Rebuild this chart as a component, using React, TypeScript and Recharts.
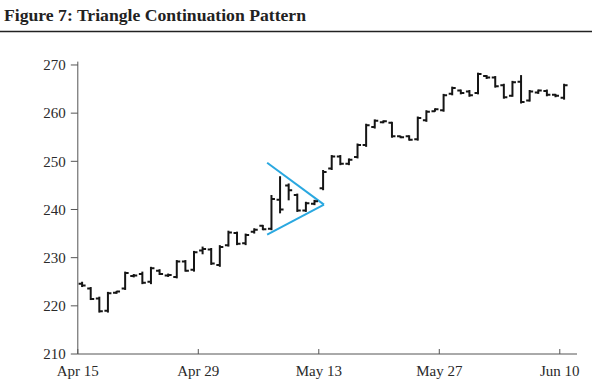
import React from 'react';
import { ComposedChart, Scatter, ErrorBar, XAxis, YAxis, ReferenceLine } from 'recharts';

// one bar per calendar day, Apr 15 .. Jun 10
const opens = [
  224.6, 223.6, 221.5, 219.0, 222.7, 223.6, 226.2, 226.6, 225.0, 227.3,
  226.3, 226.0, 229.2, 227.5, 231.5, 231.7, 228.5, 232.6, 235.1, 233.0,
  235.4, 236.6, 236.0, 242.0, 245.0, 243.0, 239.8, 241.2, 244.4, 248.5,
  251.0, 249.5, 250.9, 253.4, 257.1, 258.1, 258.0, 255.2, 255.2, 254.6,
  258.5, 260.4, 260.6, 264.0, 264.7, 264.5, 264.2, 267.7, 267.4, 265.8,
  263.6, 266.5, 262.6, 264.3, 264.6, 263.8, 263.2,
];
const highs = [
  225.0, 223.9, 221.9, 222.9, 223.1, 227.1, 226.6, 227.1, 228.1, 227.6,
  226.7, 229.5, 229.5, 231.4, 232.3, 232.0, 232.6, 235.6, 235.4, 235.0,
  236.1, 236.8, 243.0, 246.9, 245.4, 243.3, 241.6, 242.0, 248.2, 251.3,
  251.3, 250.6, 253.7, 257.8, 258.7, 258.5, 258.2, 255.3, 255.4, 259.3,
  260.6, 261.0, 264.0, 265.5, 264.9, 264.8, 268.4, 267.9, 267.7, 266.1,
  266.7, 267.9, 264.8, 264.9, 264.9, 264.0, 266.1,
];
const lows = [
  223.9, 221.2, 218.6, 218.6, 222.5, 223.3, 225.9, 224.5, 224.5, 226.4,
  226.0, 225.7, 227.1, 227.1, 230.7, 228.5, 228.1, 232.3, 232.6, 232.6,
  235.0, 235.7, 235.7, 239.2, 241.9, 239.5, 239.5, 240.9, 244.0, 248.2,
  249.2, 249.2, 250.6, 253.0, 256.8, 257.9, 254.9, 254.8, 254.3, 254.3,
  258.2, 260.3, 260.3, 263.7, 263.9, 263.4, 263.9, 267.1, 265.3, 263.0,
  263.4, 262.0, 262.4, 264.0, 263.5, 263.3, 262.8,
];
const closes = [
  224.2, 221.4, 218.9, 222.6, 223.0, 226.8, 226.3, 224.8, 227.8, 226.6,
  226.4, 229.2, 227.3, 231.1, 231.8, 228.8, 232.2, 235.2, 232.9, 234.7,
  235.8, 235.9, 242.2, 240.0, 244.0, 239.8, 241.3, 241.7, 247.8, 251.0,
  249.5, 250.3, 253.4, 257.5, 258.4, 258.3, 255.2, 255.0, 254.5, 259.0,
  260.3, 260.8, 263.7, 265.2, 264.2, 263.7, 268.1, 267.4, 265.6, 263.3,
  266.4, 262.3, 264.5, 264.7, 263.8, 263.6, 265.8,
];

const dateTicks = [0, 14, 28, 42, 56];
const dateLabels = ['Apr 15', 'Apr 29', 'May 13', 'May 27', 'Jun 10'];
const priceTicks = [210, 220, 230, 240, 250, 260, 270];

// triangle drawn over the consolidation
const triStartDay = 22;
const triApexDay = 28.6;
const triUpper = 249.7;
const triLower = 234.8;
const triApex = 241.0;

const table = opens.map((o, i) => ({
  x: i + 0.5,
  open: o,
  close: closes[i],
  mid: (highs[i] + lows[i]) / 2,
  err: (highs[i] - lows[i]) / 2,
}));

const ink = '#151515';
const serif = '"Liberation Serif", "DejaVu Serif", serif';

const OpenTick = (p: any) => (
  <line x1={p.cx - 3.5} x2={p.cx} y1={p.cy} y2={p.cy} stroke={ink} strokeWidth={2} />
);
const CloseTick = (p: any) => (
  <line x1={p.cx} x2={p.cx + 3.5} y1={p.cy} y2={p.cy} stroke={ink} strokeWidth={2} />
);
const NoDot = () => <g />;

const DateTick = (p: any) => {
  const { x, y, payload } = p;
  return (
    <g>
      <line x1={x} x2={x} y1={y} y2={y - 5} stroke="#555" />
      <text x={x} y={y + 22} textAnchor="middle" fontFamily={serif} fontSize={15} fill="#2a2a2a">
        {dateLabels[dateTicks.indexOf(payload.value)]}
      </text>
    </g>
  );
};

export default function App() {
  return (
    <div style={{ position: 'absolute', left: 0, top: 0, width: 592, height: 388, background: '#fff' }}>
      <svg width={592} height={40} style={{ position: 'absolute', left: 0, top: 0 }}>
        <text x={4} y={21} fontFamily={serif} fontWeight="bold" fontSize={16} fill="#222"
          textLength={302} lengthAdjust="spacingAndGlyphs">
          Figure 7: Triangle Continuation Pattern
        </text>
        <line x1={0} x2={592} y1={31.5} y2={31.5} stroke="#222" strokeWidth={1.6} />
      </svg>
      <div style={{ position: 'absolute', left: 0, top: 0 }}>
        <ComposedChart width={592} height={388} data={table}
          margin={{ top: 61.6, right: 15, bottom: 4, left: 7.8 }}>
          <XAxis dataKey="x" type="number" domain={[0, 58]} ticks={dateTicks} interval={0}
            allowDataOverflow height={30} tickSize={0} tickMargin={0} tickLine={false}
            axisLine={{ stroke: '#555' }} tick={<DateTick />} />
          <YAxis type="number" domain={[210, 270.7]} ticks={priceTicks} interval={0}
            allowDataOverflow width={70} tickSize={7} tickMargin={5}
            axisLine={{ stroke: '#555' }} tickLine={{ stroke: '#555' }}
            tick={{ fontFamily: serif, fontSize: 15, fill: '#2a2a2a' }} />
          <Scatter dataKey="mid" shape={NoDot} isAnimationActive={false}>
            <ErrorBar dataKey="err" direction="y" width={0} stroke={ink} strokeWidth={2}
              isAnimationActive={false} />
          </Scatter>
          <Scatter dataKey="open" shape={OpenTick} isAnimationActive={false} />
          <Scatter dataKey="close" shape={CloseTick} isAnimationActive={false} />
          <ReferenceLine segment={[{ x: triStartDay, y: triUpper }, { x: triApexDay, y: triApex }]}
            stroke="#2aa8e0" strokeWidth={2} />
          <ReferenceLine segment={[{ x: triStartDay, y: triLower }, { x: triApexDay, y: triApex }]}
            stroke="#2aa8e0" strokeWidth={2} />
        </ComposedChart>
      </div>
    </div>
  );
}
